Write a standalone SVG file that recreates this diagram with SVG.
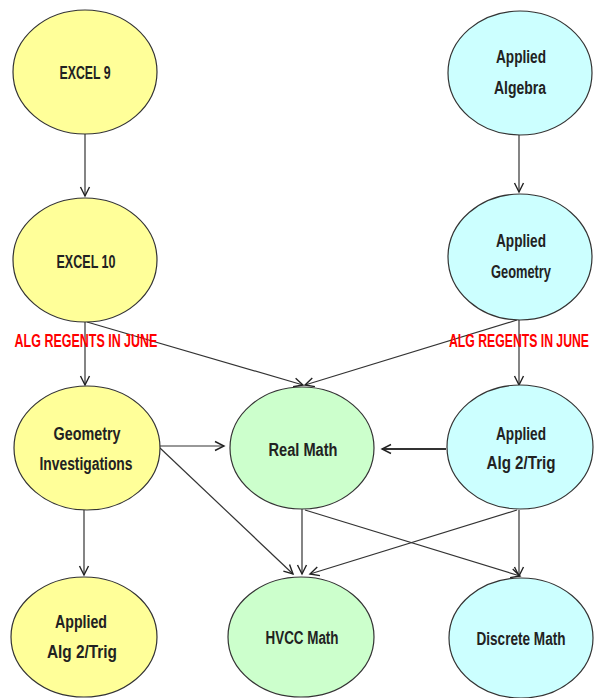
<svg xmlns="http://www.w3.org/2000/svg" width="594" height="698" viewBox="0 0 594 698">
<defs>
<marker id="arr" markerUnits="userSpaceOnUse" markerWidth="12" markerHeight="12" refX="10" refY="5" orient="auto" viewBox="0 0 12 10">
<path d="M1,0.5 L10,5 L1,9.5" fill="none" stroke="#222" stroke-width="1.4"/>
</marker>
</defs>
<style>
.y{fill:#ffff99;stroke:#333;stroke-width:1.2}
.g{fill:#ccffcc;stroke:#333;stroke-width:1.2}
.c{fill:#ccffff;stroke:#333;stroke-width:1.2}
text{font-family:"Liberation Sans",Arial,sans-serif;font-weight:bold;font-size:18px;fill:#222;text-anchor:middle}
.red{fill:#ff0000;font-size:18px}
.ln{fill:none;stroke:#333;stroke-width:1.2;marker-end:url(#arr)}
.thick{stroke-width:2.2}
</style>
<rect width="594" height="698" fill="#ffffff"/>
<g id="connectors">
<path class="ln" d="M85,134 L85,196"/>
<path class="ln" d="M519,135 L519,192"/>
<path class="ln" d="M85,322 L85,385"/>
<path class="ln" d="M87,322 L303,385"/>
<path class="ln" d="M517,320 L305,385"/>
<path class="ln" d="M519,320 L519,385"/>
<path class="ln" d="M160,446 L224,446"/>
<path class="ln thick" d="M446,449 L382,449"/>
<path class="ln" d="M160,448 L293,574"/>
<path class="ln" d="M302,509 L302,574"/>
<path class="ln" d="M305,510 L520,576"/>
<path class="ln" d="M517,510 L310,574"/>
<path class="ln" d="M519,510 L519,576"/>
<path class="ln" d="M84,510 L84,575"/>
</g>
<g id="excel9"><ellipse class="y" cx="85" cy="72" rx="72" ry="62"/><text x="85" y="79" textLength="51" lengthAdjust="spacingAndGlyphs">EXCEL 9</text></g>
<g id="applied-algebra"><ellipse class="c" cx="520" cy="73" rx="72" ry="62"/><text x="521" y="63" textLength="50" lengthAdjust="spacingAndGlyphs">Applied</text><text x="520" y="94" textLength="52" lengthAdjust="spacingAndGlyphs">Algebra</text></g>
<g id="excel10"><ellipse class="y" cx="85" cy="260" rx="72" ry="62"/><text x="86" y="268" textLength="59" lengthAdjust="spacingAndGlyphs">EXCEL 10</text></g>
<g id="applied-geometry"><ellipse class="c" cx="520" cy="257" rx="72" ry="63"/><text x="521" y="247" textLength="50" lengthAdjust="spacingAndGlyphs">Applied</text><text x="521" y="278" textLength="60" lengthAdjust="spacingAndGlyphs">Geometry</text></g>
<g id="labels">
<text class="red" transform="translate(86,347) scale(0.7,1)" x="0" y="0" textLength="204" lengthAdjust="spacingAndGlyphs">ALG REGENTS IN JUNE</text>
<text class="red" transform="translate(519,347) scale(0.7,1)" x="0" y="0" textLength="200" lengthAdjust="spacingAndGlyphs">ALG REGENTS IN JUNE</text>
</g>
<g id="geometry-investigations"><ellipse class="y" cx="87" cy="448" rx="73" ry="62"/><text x="87" y="440" textLength="67" lengthAdjust="spacingAndGlyphs">Geometry</text><text x="86" y="470" textLength="93" lengthAdjust="spacingAndGlyphs">Investigations</text></g>
<g id="real-math"><ellipse class="g" cx="302" cy="448" rx="72" ry="61"/><text x="303" y="456" textLength="69" lengthAdjust="spacingAndGlyphs">Real Math</text></g>
<g id="applied-alg2trig-right"><ellipse class="c" cx="520" cy="447" rx="73" ry="62"/><text x="521" y="440" textLength="50" lengthAdjust="spacingAndGlyphs">Applied</text><text x="521" y="469" textLength="69" lengthAdjust="spacingAndGlyphs">Alg 2/Trig</text></g>
<g id="applied-alg2trig-left"><ellipse class="y" cx="84" cy="637" rx="73" ry="60"/><text x="81" y="628" textLength="52" lengthAdjust="spacingAndGlyphs">Applied</text><text x="82" y="658" textLength="70" lengthAdjust="spacingAndGlyphs">Alg 2/Trig</text></g>
<g id="hvcc-math"><ellipse class="g" cx="301" cy="637" rx="73" ry="60"/><text x="302" y="644" textLength="73" lengthAdjust="spacingAndGlyphs">HVCC Math</text></g>
<g id="discrete-math"><ellipse class="c" cx="521" cy="638" rx="72" ry="60"/><text x="521" y="645" textLength="89" lengthAdjust="spacingAndGlyphs">Discrete Math</text></g>
</svg>
